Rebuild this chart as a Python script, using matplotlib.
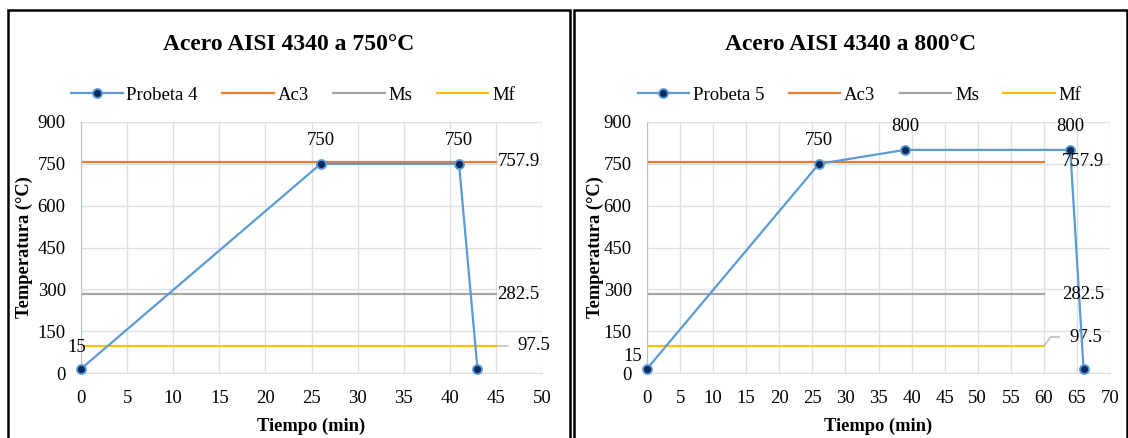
import matplotlib
matplotlib.use("Agg")
import matplotlib.pyplot as plt
from matplotlib.patches import Rectangle

plt.rcParams['font.family'] = ['Liberation Serif', 'DejaVu Serif']

# ---- data ----
t4 = [0, 26, 41, 43]
T4 = [15, 750, 750, 15]
t5 = [0, 26, 39, 64, 66]
T5 = [15, 750, 800, 800, 15]
Ac3 = 757.9
Ms = 282.5
Mf = 97.5
line_end_4 = 45
line_end_5 = 60
titles = ["Acero AISI 4340 a 750°C", "Acero AISI 4340 a 800°C"]
series_names = ["Probeta 4", "Probeta 5"]
xmax = [50, 70]

# point label offsets (points)
lbl_off_4 = [(-3, 9), (0, 11), (0, 11), None]
lbl_off_5 = [(-10, 3), (0, 11), (0, 11), (0, 11), None]

c_line = '#5B9BD5'
c_mark = '#0B2B5E'
c_ac3 = '#ED7D31'
c_ms = '#A5A5A5'
c_mf = '#FFC000'
c_grid = '#DCE1E8'

fig = plt.figure(figsize=(11.28, 4.38), dpi=100)

W, H = 1128, 438
def fx(px): return px / W
def fy(py): return 1 - py / H

panels = [
    dict(ax=(81, 542), box=(8, 570), t=t4, T=T4, end=line_end_4, off=lbl_off_4,
         end_off=1, mf_lead=(0.6, 97.5, 1.3), mf_text=2.3,
         name=series_names[0], xmax=xmax[0], title=titles[0], ylab_x=-0.104, leg_dx=4),
    dict(ax=(647, 1110), box=(574, 1127), t=t5, T=T5, end=line_end_5, off=lbl_off_5,
         end_off=13, mf_lead=(1.06, 129, 2.3), mf_text=3.8,
         name=series_names[1], xmax=xmax[1], title=titles[1], ylab_x=-0.093, leg_dx=9),
]

ytop, ybot = 122, 373
fs_tick = 13.5

for i, p in enumerate(panels):
    bx0, bx1 = p['box']
    fig.patches.append(Rectangle((fx(bx0), -0.05), fx(bx1 - bx0), fy(10) + 0.05,
                                 transform=fig.transFigure,
                                 fill=False, edgecolor='black', linewidth=1.8))
    x0, x1 = p['ax']
    ax = fig.add_axes([fx(x0), fy(ybot), fx(x1 - x0), (ybot - ytop) / H])
    ax.set_xlim(0, p['xmax'])
    ax.set_ylim(0, 900)
    ax.set_xticks(range(0, p['xmax'] + 1, 5))
    ax.set_yticks(range(0, 901, 150))
    ax.grid(True, color=c_grid, linewidth=1)
    ax.set_axisbelow(True)
    for s in ['top', 'right']:
        ax.spines[s].set_visible(False)
    ax.spines['bottom'].set_color(c_grid)
    ax.spines['left'].set_color('#B8C0CC')
    ax.tick_params(axis='y', length=0, labelsize=fs_tick, pad=11)
    ax.tick_params(axis='x', length=0, labelsize=fs_tick, pad=12)

    end = p['end']
    ax.plot([0, end], [Ac3, Ac3], color=c_ac3, lw=1.6, label='Ac3', zorder=2)
    ax.plot([0, end], [Ms, Ms], color=c_ms, lw=1.6, label='Ms', zorder=2)
    ax.plot([0, end], [Mf, Mf], color=c_mf, lw=1.6, label='Mf', zorder=2)
    ax.plot(p['t'], p['T'], color=c_line, lw=1.6, marker='o', markersize=6.5,
            markerfacecolor=c_mark, markeredgecolor=c_line, markeredgewidth=1.3,
            label=p['name'], zorder=4, clip_on=False)

    for tt, TT, off in zip(p['t'], p['T'], p['off']):
        if off is None:
            continue
        ax.annotate(f"{TT}", (tt, TT), xytext=off, textcoords='offset points',
                    ha='center', va='bottom', fontsize=fs_tick)

    eo = p['end_off']
    ax.annotate(f"{Ac3}", (end, Ac3), xytext=(eo, 0), textcoords='offset points',
                ha='left', va='center', fontsize=fs_tick, annotation_clip=False, zorder=5)
    ax.annotate(f"{Ms}", (end, Ms), xytext=(eo, 0), textcoords='offset points',
                ha='left', va='center', fontsize=fs_tick, annotation_clip=False, zorder=5)
    d1, ylab, d2 = p['mf_lead']
    ax.plot([end, end + d1, end + d2], [Mf, ylab, ylab],
            color='#BFBFBF', lw=1.2, clip_on=False, zorder=1)
    ax.annotate(f"{Mf}", (end + p['mf_text'], ylab), xytext=(0, 0), textcoords='offset points',
                ha='left', va='center', fontsize=fs_tick, annotation_clip=False)

    ax.set_xlabel("Tiempo (min)", fontsize=13.3, fontweight='bold')
    ax.set_ylabel("Temperatura (°C)", fontsize=13.3, fontweight='bold')
    ax.xaxis.set_label_coords(0.5, -0.18)
    ax.yaxis.set_label_coords(p['ylab_x'], 0.5)

    fig.text(fx((bx0 + bx1) / 2), fy(45), p['title'], ha='center', va='center',
             fontsize=17, fontweight='bold')

    handles, labels = ax.get_legend_handles_labels()
    order = [3, 0, 1, 2]
    ax.legend([handles[k] for k in order], [labels[k] for k in order],
              loc='center', bbox_to_anchor=(fx((bx0 + bx1) / 2 + p['leg_dx']), fy(95)),
              bbox_transform=fig.transFigure, ncol=4, frameon=False,
              fontsize=13.5, handlelength=2.75, handletextpad=0.2,
              columnspacing=1.3)

fig.savefig("out.png", dpi=100)
